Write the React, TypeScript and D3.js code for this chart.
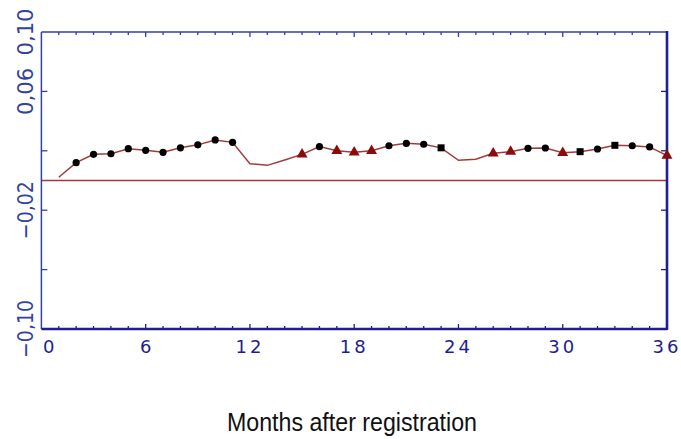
import React from "react";
import * as d3 from "d3";

// monthly estimates
const months = [
    1, 2, 3, 4, 5, 6, 7, 8, 9, 10, 11, 12, 13, 14, 15, 16, 17, 18,
    19, 20, 21, 22, 23, 24, 25, 26, 27, 28, 29, 30, 31, 32, 33, 34, 35, 36,
];
const values = [
    0.0022, 0.012, 0.0176, 0.018, 0.0214, 0.0203, 0.019, 0.022, 0.024, 0.0273, 0.0257, 0.0113,
    0.0102, 0.0138, 0.0176, 0.0228, 0.020, 0.019, 0.020, 0.0234, 0.025, 0.0244, 0.022, 0.0136,
    0.0143, 0.0183, 0.0194, 0.0217, 0.0219, 0.0187, 0.0194, 0.0212, 0.0237, 0.0234, 0.0226, 0.0167,
];
// c = circle, s = square, t = triangle, n = no marker
const markers = [
    "n", "c", "c", "c", "c", "c", "c", "c", "c", "c", "c", "n",
    "n", "n", "t", "c", "t", "t", "t", "c", "c", "c", "s", "n",
    "n", "t", "t", "c", "c", "t", "s", "c", "s", "c", "c", "t",
];

const xTicks = [0, 6, 12, 18, 24, 30, 36];
const yTicks = [0.10, 0.06, 0.02, -0.02, -0.06, -0.10];
const yLabels = [0.10, 0.06, -0.02, -0.10];
const xTitle = "Months after registration";

const W = 681;
const H = 439;
const plot = {left: 41.4, right: 667, top: 32, bottom: 329};
const blue = "#3242a2";
const navy = "#1e1e8e";
const lineRed = "#a33a3a";
const triRed = "#8b0a0a";

const fmt = (v: number) => d3.format(".2f")(v).replace(".", ",").replace("-", "\u2212");

export default function App() {
    const x = d3.scaleLinear().domain([0, 36]).range([plot.left, plot.right]);
    const y = d3.scaleLinear().domain([-0.1, 0.1]).range([plot.bottom, plot.top]);

    const pts = months.map((m, i) => [m, values[i]] as [number, number]);
    const line = d3
        .line<[number, number]>()
        .x((d) => x(d[0]))
        .y((d) => y(d[1]));

    const tri = d3.symbol().type(d3.symbolTriangle).size(52)();
    const minor = d3.range(1, 36);

    return (
        <svg width={W} height={H} style={{position: "absolute", left: 0, top: 0, background: "#fff"}}>
            {/* zero line */}
            <line x1={plot.left} x2={plot.right} y1={y(0)} y2={y(0)} stroke={lineRed} strokeWidth={1.5}/>

            {/* ticks on top and bottom */}
            {minor.map((m) => {
                const len = m % 6 === 0 ? 5 : 3;
                return (
                    <g key={"t" + m}>
                        <line x1={x(m)} x2={x(m)} y1={plot.top} y2={plot.top + len} stroke={blue} strokeWidth={1.3}/>
                        <line x1={x(m)} x2={x(m)} y1={plot.bottom} y2={plot.bottom - len} stroke={navy} strokeWidth={1.3}/>
                    </g>
                );
            })}
            {/* ticks on left and right */}
            {yTicks.slice(1, -1).map((v) => (
                <g key={"y" + v}>
                    <line x1={plot.left} x2={plot.left + 6} y1={y(v)} y2={y(v)} stroke={blue} strokeWidth={1.3}/>
                    <line x1={plot.right} x2={plot.right - 6} y1={y(v)} y2={y(v)} stroke={navy} strokeWidth={1.3}/>
                </g>
            ))}

            {/* frame */}
            <line x1={plot.left} x2={plot.right} y1={plot.top} y2={plot.top} stroke={blue} strokeWidth={1.5}/>
            <line x1={plot.left} x2={plot.left} y1={plot.top} y2={plot.bottom} stroke={blue} strokeWidth={1.5}/>
            <line x1={plot.right} x2={plot.right} y1={plot.top - 1} y2={plot.bottom + 1} stroke={navy} strokeWidth={2.6}/>
            <line x1={plot.left} x2={plot.right} y1={plot.bottom} y2={plot.bottom} stroke={navy} strokeWidth={2.6}/>

            {/* series */}
            <path d={line(pts) || ""} fill="none" stroke={lineRed} strokeWidth={1.5}/>
            {pts.map((d, i) => {
                const k = markers[i];
                const cx = x(d[0]);
                const cy = y(d[1]);
                if (k === "c") return <circle key={i} cx={cx} cy={cy} r={3.6} fill="#000"/>;
                if (k === "s") return <rect key={i} x={cx - 3.5} y={cy - 3.5} width={7} height={7} fill="#000"/>;
                if (k === "t") return <path key={i} d={tri || ""} transform={`translate(${cx},${cy})`} fill={triRed}/>;
                return null;
            })}

            {/* x tick labels */}
            {xTicks.map((t) => (
                <text
                    key={"xl" + t}
                    x={t === 0 ? 43 : x(t)}
                    y={353}
                    textAnchor={t === 0 ? "start" : "middle"}
                    fontFamily="'DejaVu Sans', sans-serif"
                    fontSize={18}
                    letterSpacing={t >= 10 ? 3 : 0}
                    fill={navy}
                >
                    {t}
                </text>
            ))}

            {/* y tick labels, rotated */}
            {yLabels.map((v) => (
                <text
                    key={"yl" + v}
                    transform={`translate(33,${y(v)}) rotate(-90)`}
                    textAnchor="middle"
                    fontFamily="'DejaVu Sans', sans-serif"
                    fontSize={22}
                    fill={blue}
                    textLength={v < 0 ? 58 : 47}
                    lengthAdjust="spacingAndGlyphs"
                >
                    {fmt(v)}
                </text>
            ))}

            {/* axis title */}
            <text
                x={352}
                y={431}
                textAnchor="middle"
                fontFamily="'Liberation Sans Narrow', 'Liberation Sans', Arial, sans-serif"
                fontSize={26}
                fill="#111"
                textLength={250}
                lengthAdjust="spacingAndGlyphs"
            >
                {xTitle}
            </text>
        </svg>
    );
}
